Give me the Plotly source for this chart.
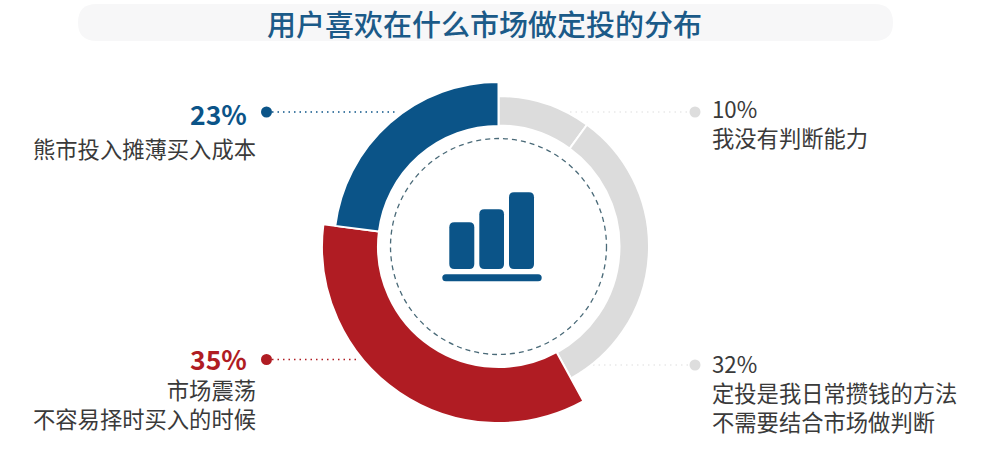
import plotly.graph_objects as go

# ---- data ----
categories = ["我没有判断能力", "定投是我日常攒钱的方法<br>不需要结合市场做判断", "市场震荡<br>不容易择时买入的时候", "熊市投入摊薄买入成本"]
values = [10, 32, 35, 23]
percent_labels = ["10%", "32%", "35%", "23%"]
title_text = "用户喜欢在什么市场做定投的分布"

W, H = 999, 466
CX, CY = 498.5, 246.5
FONT = "Noto Sans CJK SC"
BLUE, RED, GREY = "#0b5488", "#b01c23", "#dcdcdc"
TEXT = "#3a3a3a"
CLEAR = "rgba(0,0,0,0)"


def ring(r_out, r_in, colors):
    return go.Pie(
        values=values, labels=categories, sort=False, direction="clockwise", rotation=0,
        hole=r_in / r_out,
        domain=dict(x=[(CX - r_out) / W, (CX + r_out) / W],
                    y=[1 - (CY + r_out) / H, 1 - (CY - r_out) / H]),
        marker=dict(colors=colors,
                    line=dict(color=["#ffffff" if c != CLEAR else CLEAR for c in colors],
                              width=[2 if c != CLEAR else 0 for c in colors])),
        textinfo="none", hoverinfo="skip", showlegend=False,
    )


def rounded(x0, y0, x1, y1, r):
    return (f"M {x0+r} {y0} L {x1-r} {y0} Q {x1} {y0} {x1} {y0+r} L {x1} {y1-r} "
            f"Q {x1} {y1} {x1-r} {y1} L {x0+r} {y1} Q {x0} {y1} {x0} {y1-r} "
            f"L {x0} {y0+r} Q {x0} {y0} {x0+r} {y0} Z")


fig = go.Figure()
fig.add_trace(ring(150.5, 121, [GREY, GREY, CLEAR, CLEAR]))
fig.add_trace(ring(176.5, 120.5, [CLEAR, CLEAR, RED, CLEAR]))
fig.add_trace(ring(164.5, 120.5, [CLEAR, CLEAR, CLEAR, BLUE]))

# leader lines with their dots
leaders = [
    ([570, 695], 112, "#dddddd", 1.2, 11),
    ([593, 695], 365, "#dddddd", 1.2, 11),
    ([266.5, 357], 359.5, RED, 1.5, 11),
    ([266.5, 397], 112, BLUE, 1.5, 11),
]
for xs, y, col, lw, size in leaders:
    fig.add_trace(go.Scatter(
        x=xs, y=[y, y], mode="lines", line=dict(color=col, width=lw, dash="1.5px,4px"),
        hoverinfo="skip", showlegend=False))
    dot_x = xs[1] if xs[0] > 500 else xs[0]
    fig.add_trace(go.Scatter(
        x=[dot_x], y=[y], mode="markers", marker=dict(color=col, size=size),
        hoverinfo="skip", showlegend=False))

shapes = [
    dict(type="path", path=rounded(78, 4, 893, 41, 18.5), fillcolor="#f7f7f8", line_width=0, layer="below"),
    dict(type="circle", x0=CX - 108, x1=CX + 108, y0=CY - 108, y1=CY + 108,
         line=dict(color="#4a6a78", width=1.3, dash="5px,4px")),
    dict(type="path", path=rounded(449.3, 222.3, 474.3, 269, 5), fillcolor=BLUE, line_width=0),
    dict(type="path", path=rounded(479.3, 209.3, 504, 269, 5), fillcolor=BLUE, line_width=0),
    dict(type="path", path=rounded(509, 192.3, 534, 269, 5), fillcolor=BLUE, line_width=0),
    dict(type="path", path=rounded(442.3, 274.3, 541.7, 281.3, 3.5), fillcolor=BLUE, line_width=0),
]


def note(x, y, text, size, color, anchor="left", weight=400):
    return dict(x=x, y=y, xref="x", yref="y", text=text, showarrow=False, xanchor=anchor, yanchor="middle",
                align=anchor, borderpad=0,
                font=dict(family=FONT, size=size, color=color, weight=weight))


annotations = [
    note(484.5, 22.5, title_text, 29, "#1b5a88", "center", 500),
    note(711, 122, percent_labels[0] + "<br>" + categories[0], 22.3, TEXT),
    note(711, 391.5, percent_labels[1] + "<br>" + categories[1], 22.3, TEXT),
    note(248, 113, percent_labels[3], 26.5, BLUE, "right", 700),
    note(256.5, 148, categories[3], 22.3, TEXT, "right"),
    note(248, 358, percent_labels[2], 26.5, RED, "right", 700),
    note(256.5, 403, categories[2], 22.3, TEXT, "right"),
]

fig.update_layout(
    width=W, height=H, margin=dict(l=0, r=0, t=0, b=0),
    paper_bgcolor="white", plot_bgcolor="white",
    xaxis=dict(range=[0, W], visible=False, fixedrange=True),
    yaxis=dict(range=[H, 0], visible=False, fixedrange=True),
    shapes=shapes, annotations=annotations,
)
fig.write_html("out.html", config=dict(displayModeBar=False),
               post_script="document.body.style.margin='0';document.body.style.overflow='hidden';")
